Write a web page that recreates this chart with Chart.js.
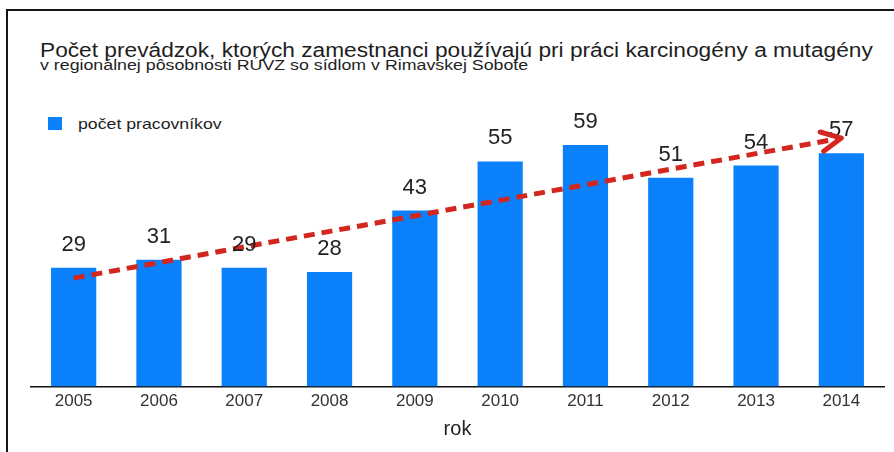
<!DOCTYPE html>
<html lang="sk">
<head>
<meta charset="utf-8">
<title>Počet prevádzok</title>
<script src="https://cdn.jsdelivr.net/npm/chart.js@4.4.1/dist/chart.umd.min.js"></script>
<style>
  body { margin: 0; background: #fff; font-family: "Liberation Sans", Arial, Helvetica, sans-serif; }
  #wrap { position: relative; width: 894px; height: 452px; overflow: hidden; }
  #frame { position: absolute; left: 6px; top: 9px; width: 1000px; height: 600px; border-left: 2px solid #151515; border-top: 2px solid #151515; }
  .txt { position: absolute; white-space: nowrap; line-height: 1; color: #1e1e1e; transform-origin: 0 0; }
  #title { left: 40px; top: 40px; font-size: 20px; transform: scaleX(1.135); }
  #subtitle { left: 40px; top: 58px; font-size: 14px; transform: scaleX(1.27); }
  #legendBox { position: absolute; left: 48px; top: 117px; width: 14px; height: 13px; background: #0b80fb; }
  #legendText { left: 78px; top: 116px; font-size: 15px; transform: scaleX(1.18); }
  #chartBox { position: absolute; left: 0; top: 0; width: 894px; height: 452px; }
</style>
</head>
<body>
<div id="wrap">
  <div id="frame"></div>
  <div class="txt" id="title">Počet prevádzok, ktorých zamestnanci používajú pri práci karcinogény a mutagény</div>
  <div class="txt" id="subtitle">v regionálnej pôsobnosti RÚVZ so sídlom v Rimavskej Sobote</div>
  <div id="legendBox"></div>
  <div class="txt" id="legendText">počet pracovníkov</div>
  <div id="chartBox"><canvas id="chart"></canvas></div>
</div>
<script>
const years = ["2005", "2006", "2007", "2008", "2009", "2010", "2011", "2012", "2013", "2014"];
const workers = [29, 31, 29, 28, 43, 55, 59, 51, 54, 57];
// trend arrow at the first and last year
const trendYears = ["2005", "2014"];
const trendValues = [26.5, 60.7];

const barColor = "#0b80fb";
const trendColor = "#d3261f";
const fontFamily = '"Liberation Sans", Arial, Helvetica, sans-serif';

const valueLabels = {
  id: "valueLabels",
  afterDatasetsDraw(chart) {
    const ctx = chart.ctx;
    const meta = chart.getDatasetMeta(0);
    ctx.save();
    ctx.font = "22px " + fontFamily;
    ctx.fillStyle = "#222";
    ctx.textAlign = "center";
    ctx.textBaseline = "alphabetic";
    meta.data.forEach((bar, i) => {
      ctx.fillText(workers[i], bar.x, bar.y - 17);
    });
    ctx.restore();
  }
};

const trendArrow = {
  id: "trendArrow",
  afterDatasetsDraw(chart) {
    const pts = chart.getDatasetMeta(1).data;
    if (pts.length < 2) return;
    const a = pts[0], b = pts[pts.length - 1];
    const angle = Math.atan2(b.y - a.y, b.x - a.x);
    const len = 22, spread = 0.46;
    const ctx = chart.ctx;
    ctx.save();
    ctx.strokeStyle = trendColor;
    ctx.lineWidth = 5;
    ctx.lineCap = "round";
    ctx.lineJoin = "round";
    ctx.beginPath();
    ctx.moveTo(b.x - len * Math.cos(angle - spread), b.y - len * Math.sin(angle - spread));
    ctx.lineTo(b.x, b.y);
    ctx.lineTo(b.x - len * Math.cos(angle + spread), b.y - len * Math.sin(angle + spread));
    ctx.stroke();
    ctx.restore();
  }
};

function init() {
  const ctx = document.getElementById("chart").getContext("2d");
  new Chart(ctx, {
    type: "bar",
    data: {
      labels: years,
      datasets: [
        {
          label: "počet pracovníkov",
          data: workers,
          backgroundColor: barColor,
          borderWidth: 0,
          categoryPercentage: 1,
          barPercentage: 0.53,
          order: 1
        },
        {
          type: "line",
          label: "trend",
          data: trendYears.map((y, i) => ({ x: y, y: trendValues[i] })),
          borderColor: trendColor,
          borderWidth: 5,
          borderDash: [11, 7],
          pointRadius: 0,
          fill: false,
          order: 0
        }
      ]
    },
    options: {
      responsive: true,
      maintainAspectRatio: false,
      animation: false,
      layout: { padding: { left: 31, right: 10, top: 100, bottom: 0 } },
      plugins: {
        legend: { display: false },
        tooltip: { enabled: false }
      },
      scales: {
        x: {
          grid: { display: false, drawTicks: false },
          border: { display: true, color: "#111", width: 1.5 },
          ticks: { color: "#333", padding: 5, font: { family: fontFamily, size: 17 } },
          title: {
            display: true,
            text: "rok",
            color: "#222",
            font: { family: fontFamily, size: 20 },
            padding: { top: 0, bottom: 11 }
          }
        },
        y: { display: false, min: 0, max: 70 }
      }
    },
    plugins: [valueLabels, trendArrow]
  });
}

document.addEventListener("DOMContentLoaded", init);
</script>
</body>
</html>
